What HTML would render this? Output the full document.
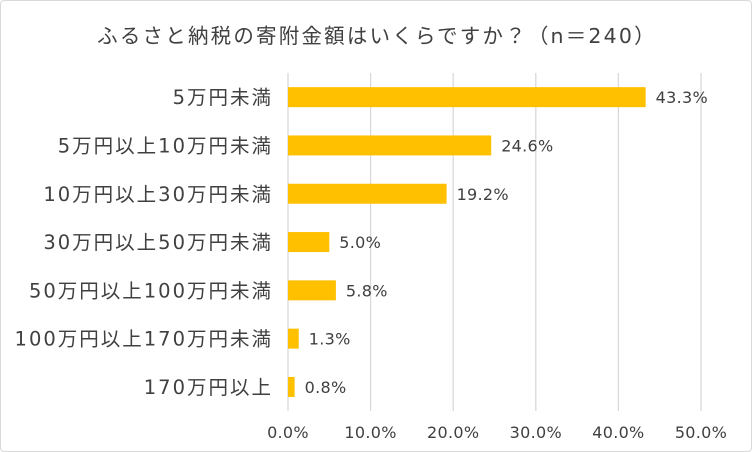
<!DOCTYPE html>
<html><head><meta charset="utf-8"><style>
html,body{margin:0;padding:0;background:#fff;}
#wrap{position:relative;width:750px;height:450px;border:1px solid #d9d9d9;border-radius:4px;overflow:hidden;}
svg text{font-family:"DejaVu Sans","Noto Sans CJK JP",sans-serif;fill:#404040;}
</style></head><body>
<div id="wrap">
<svg id="chart" width="750" height="450">
<text x="376" y="42" text-anchor="middle" font-size="20.5" letter-spacing="2.2">ふるさと納税の寄附金額はいくらですか？（n＝240）</text>
</svg>
</div>
<script>
const categories=["5万円未満","5万円以上10万円未満","10万円以上30万円未満","30万円以上50万円未満","50万円以上100万円未満","100万円以上170万円未満","170万円以上"];
const values=[43.3,24.6,19.2,5.0,5.8,1.3,0.8];
const ticks=[0,10,20,30,40,50];
const svg=document.getElementById('chart');
const NS='http://www.w3.org/2000/svg';
const x0=287,x1=700,gTop=72,gBot=410,rowTop=72,rowH=48.3;
const xs=v=>x0+(v/50)*(x1-x0);
const ys=i=>rowTop+rowH*(i+0.5);
function mk(t,a){const e=document.createElementNS(NS,t);for(const k in a)e.setAttribute(k,a[k]);svg.appendChild(e);return e;}
ticks.forEach(t=>{
 const l=mk('line',{x1:xs(t),x2:xs(t),y1:gTop,y2:gBot,stroke:'#d9d9d9','stroke-width':1.3});
 
 
 const tx=mk('text',{x:xs(t),y:437,'text-anchor':'middle','font-size':16,'letter-spacing':0.3});
 tx.textContent=t.toFixed(1)+'%';
 
 
});
categories.forEach((c,i)=>{
 const y=ys(i);
 const lab=mk('text',{x:272,y:y+7,'text-anchor':'end','font-size':19.5,'letter-spacing':2});
 lab.textContent=c;
 
 
 const b=mk('rect',{x:x0,y:y-10,width:xs(values[i])-x0,height:20,fill:'#ffc000'});
 
 
 const v=mk('text',{x:xs(values[i])+10,y:y+6,'font-size':16,'letter-spacing':0.3});
 v.textContent=values[i].toFixed(1)+'%';
 
 
});
</script>
</body></html>
